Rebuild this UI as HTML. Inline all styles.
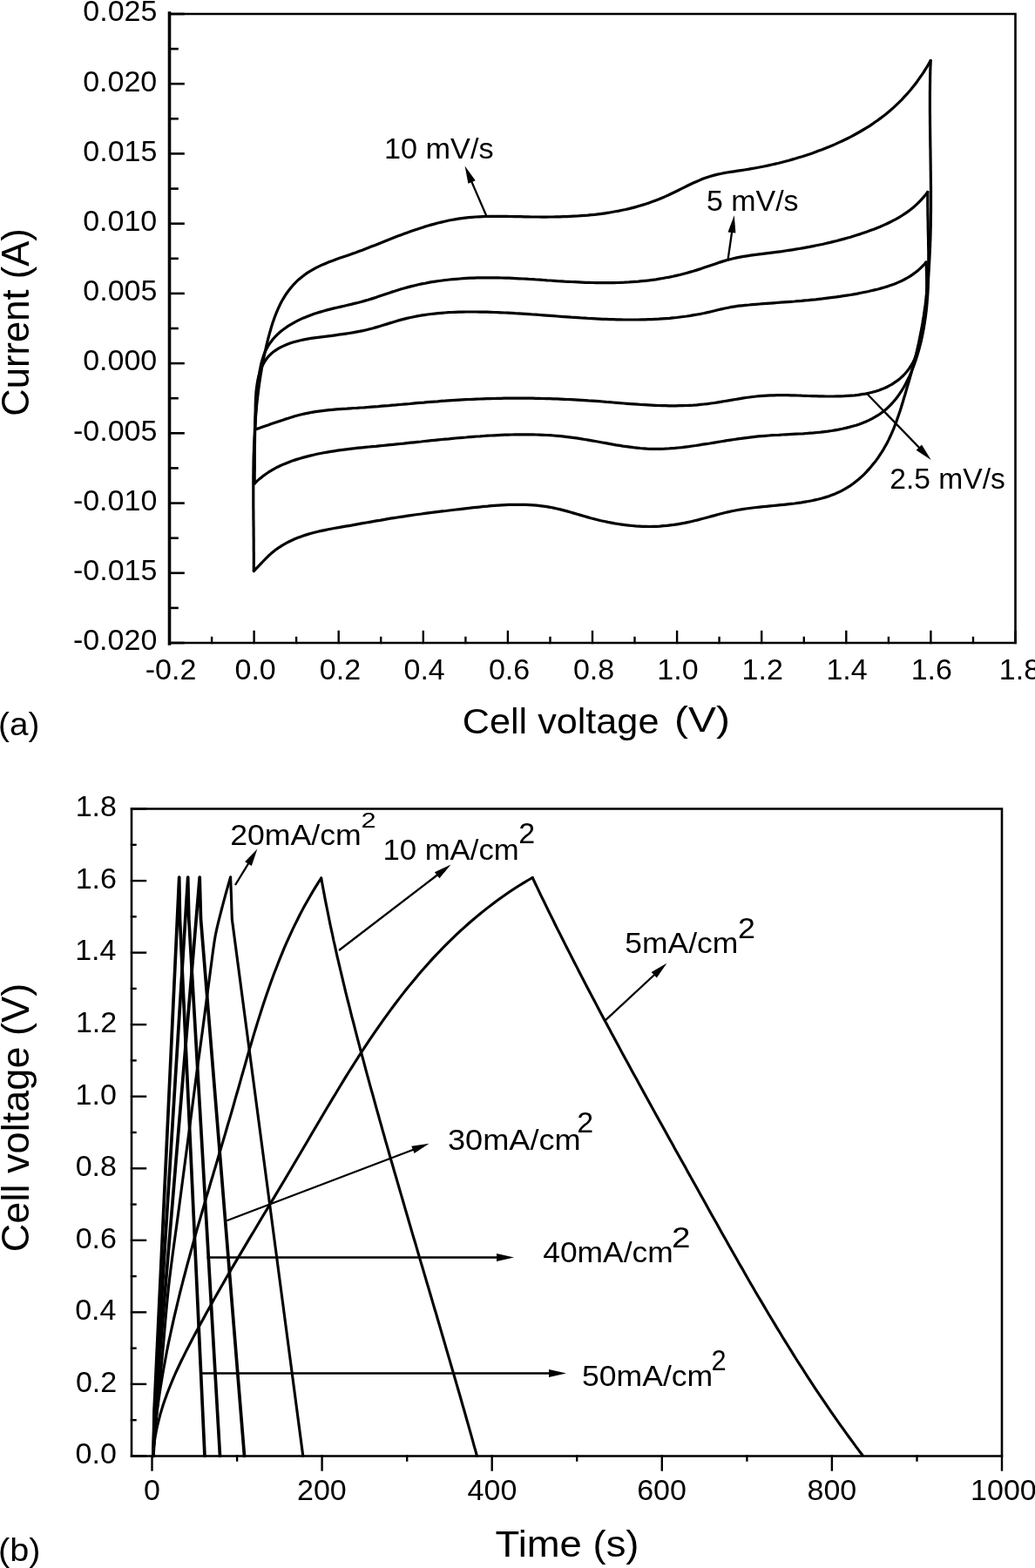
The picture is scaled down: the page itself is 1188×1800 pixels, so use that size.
<!DOCTYPE html>
<html><head><meta charset="utf-8"><title>Figure</title>
<style>
html,body{margin:0;padding:0;background:#fff;}
svg{display:block;}
</style></head><body>
<svg width="1188" height="1800" viewBox="0 0 1188 1800">
<rect width="1188" height="1800" fill="#fff"/>
<g fill="none" stroke="#000" stroke-linecap="square">
<path d="M194.5,15 V739" stroke-width="3.6"/>
<path d="M194.5,16 H1165.5 V738 H194.5" stroke-width="2.6"/>
<path d="M194.5,16 h16" stroke-width="2.6"/>
<path d="M194.5,56.1 h9" stroke-width="2.6"/>
<path d="M194.5,96.2 h16" stroke-width="2.6"/>
<path d="M194.5,136.3 h9" stroke-width="2.6"/>
<path d="M194.5,176.4 h16" stroke-width="2.6"/>
<path d="M194.5,216.6 h9" stroke-width="2.6"/>
<path d="M194.5,256.7 h16" stroke-width="2.6"/>
<path d="M194.5,296.8 h9" stroke-width="2.6"/>
<path d="M194.5,336.9 h16" stroke-width="2.6"/>
<path d="M194.5,377 h9" stroke-width="2.6"/>
<path d="M194.5,417.1 h16" stroke-width="2.6"/>
<path d="M194.5,457.2 h9" stroke-width="2.6"/>
<path d="M194.5,497.3 h16" stroke-width="2.6"/>
<path d="M194.5,537.4 h9" stroke-width="2.6"/>
<path d="M194.5,577.6 h16" stroke-width="2.6"/>
<path d="M194.5,617.7 h9" stroke-width="2.6"/>
<path d="M194.5,657.8 h16" stroke-width="2.6"/>
<path d="M194.5,697.9 h9" stroke-width="2.6"/>
<path d="M194.5,738 h16" stroke-width="2.6"/>
<path d="M194.5,738 v-13" stroke-width="2.4"/>
<path d="M243.1,738 v-6" stroke-width="2.4"/>
<path d="M291.6,738 v-13" stroke-width="2.4"/>
<path d="M340.1,738 v-6" stroke-width="2.4"/>
<path d="M388.7,738 v-13" stroke-width="2.4"/>
<path d="M437.2,738 v-6" stroke-width="2.4"/>
<path d="M485.8,738 v-13" stroke-width="2.4"/>
<path d="M534.4,738 v-6" stroke-width="2.4"/>
<path d="M582.9,738 v-13" stroke-width="2.4"/>
<path d="M631.5,738 v-6" stroke-width="2.4"/>
<path d="M680,738 v-13" stroke-width="2.4"/>
<path d="M728.5,738 v-6" stroke-width="2.4"/>
<path d="M777.1,738 v-13" stroke-width="2.4"/>
<path d="M825.6,738 v-6" stroke-width="2.4"/>
<path d="M874.2,738 v-13" stroke-width="2.4"/>
<path d="M922.8,738 v-6" stroke-width="2.4"/>
<path d="M971.3,738 v-13" stroke-width="2.4"/>
<path d="M1019.9,738 v-6" stroke-width="2.4"/>
<path d="M1068.4,738 v-13" stroke-width="2.4"/>
<path d="M1117,738 v-6" stroke-width="2.4"/>
<path d="M1165.5,738 v-13" stroke-width="2.4"/>
</g>
<g font-family="'Liberation Sans', Arial, Helvetica, sans-serif" fill="#000" stroke="#000" stroke-width="0">
<text x="95.3" y="24.3" font-size="34" textLength="85.08" lengthAdjust="spacingAndGlyphs">0.025</text>
<text x="95.2" y="104.5" font-size="34" textLength="85.08" lengthAdjust="spacingAndGlyphs">0.020</text>
<text x="95.3" y="184.7" font-size="34" textLength="85.08" lengthAdjust="spacingAndGlyphs">0.015</text>
<text x="95.2" y="265" font-size="34" textLength="85.08" lengthAdjust="spacingAndGlyphs">0.010</text>
<text x="95.3" y="345.2" font-size="34" textLength="85.08" lengthAdjust="spacingAndGlyphs">0.005</text>
<text x="95.2" y="425.4" font-size="34" textLength="85.08" lengthAdjust="spacingAndGlyphs">0.000</text>
<text x="84" y="505.6" font-size="34" textLength="96.41" lengthAdjust="spacingAndGlyphs">-0.005</text>
<text x="83.9" y="585.9" font-size="34" textLength="96.41" lengthAdjust="spacingAndGlyphs">-0.010</text>
<text x="84" y="666.1" font-size="34" textLength="96.41" lengthAdjust="spacingAndGlyphs">-0.015</text>
<text x="83.9" y="746.3" font-size="34" textLength="96.41" lengthAdjust="spacingAndGlyphs">-0.020</text>
<text x="166.8" y="779.5" font-size="34" textLength="58.59" lengthAdjust="spacingAndGlyphs">-0.2</text>
<text x="269.5" y="779.5" font-size="34" textLength="47.26" lengthAdjust="spacingAndGlyphs">0.0</text>
<text x="366.8" y="779.5" font-size="34" textLength="47.26" lengthAdjust="spacingAndGlyphs">0.2</text>
<text x="463.5" y="779.5" font-size="34" textLength="47.26" lengthAdjust="spacingAndGlyphs">0.4</text>
<text x="560.9" y="779.5" font-size="34" textLength="47.26" lengthAdjust="spacingAndGlyphs">0.6</text>
<text x="657.9" y="779.5" font-size="34" textLength="47.26" lengthAdjust="spacingAndGlyphs">0.8</text>
<text x="754.3" y="779.5" font-size="34" textLength="47.26" lengthAdjust="spacingAndGlyphs">1.0</text>
<text x="851.6" y="779.5" font-size="34" textLength="47.26" lengthAdjust="spacingAndGlyphs">1.2</text>
<text x="948.4" y="779.5" font-size="34" textLength="47.26" lengthAdjust="spacingAndGlyphs">1.4</text>
<text x="1045.7" y="779.5" font-size="34" textLength="47.26" lengthAdjust="spacingAndGlyphs">1.6</text>
<text x="1146.8" y="779.5" font-size="34" textLength="47.26" lengthAdjust="spacingAndGlyphs">1.8</text>
<text x="530.8" y="841.5" font-size="40" textLength="225.61" lengthAdjust="spacingAndGlyphs">Cell voltage</text>
<text x="774" y="840" font-size="40" textLength="63.95" lengthAdjust="spacingAndGlyphs">(V)</text>
<text transform="translate(32.5,477.8) rotate(-90)" font-size="44" textLength="215.52" lengthAdjust="spacingAndGlyphs">Current (A)</text>
<text x="-1.9" y="843.8" font-size="36" textLength="47.30" lengthAdjust="spacingAndGlyphs">(a)</text>
<text x="440.9" y="182.3" font-size="34" textLength="125.75" lengthAdjust="spacingAndGlyphs">10 mV/s</text>
<text x="810.9" y="242.4" font-size="34" textLength="105.69" lengthAdjust="spacingAndGlyphs">5 mV/s</text>
<text x="1021.2" y="561" font-size="34" textLength="132.71" lengthAdjust="spacingAndGlyphs">2.5 mV/s</text>
</g>
<g fill="none" stroke="#000" stroke-width="3.2" stroke-linejoin="round" stroke-linecap="round">
<path d="M291.3,655.0 L291.3,651.0 L291.3,646.9 L291.3,642.9 L291.3,638.9 L291.3,634.8 L291.2,630.8 L291.2,626.8 L291.2,622.8 L291.2,618.7 L291.1,614.7 L291.1,610.7 L291.1,606.6 L291.0,602.6 L291.0,598.6 L290.9,594.6 L290.9,590.5 L290.9,586.5 L290.8,582.5 L290.8,578.5 L290.8,574.5 L290.8,570.4 L290.8,566.4 L290.8,562.4 L290.8,558.4 L290.8,554.4 L290.8,550.4 L290.8,546.4 L290.9,542.3 L290.9,538.3 L291.0,534.3 L291.0,530.3 L291.1,526.3 L291.2,522.3 L291.4,518.3 L291.5,514.3 L291.6,510.3 L291.8,506.3 L292.0,502.3 L292.2,498.3 L292.4,494.3 L292.6,490.3 L292.9,486.3 L293.2,482.3 L293.5,478.4 L293.8,474.4 L294.2,470.4 L294.5,466.4 L294.9,462.4 L295.4,458.4 L295.8,454.5 L296.3,450.5 L296.8,446.5 L297.3,442.6 L297.9,438.6 L298.5,434.6 L299.1,430.7 L299.8,426.7 L300.4,422.7 L301.2,418.8 L301.9,414.8 L302.7,410.9 L303.5,406.9 L304.4,403.0 L305.3,399.0 L306.2,395.1 L307.2,391.1 L308.2,387.2 L309.3,383.2 L310.4,379.3 L311.5,375.4 L312.7,371.5 L314.0,367.7 L315.4,363.8 L316.8,360.1 L318.4,356.3 L320.0,352.7 L321.7,349.1 L323.6,345.5 L325.6,342.1 L327.7,338.7 L329.9,335.5 L332.3,332.3 L334.8,329.2 L337.4,326.3 L340.2,323.4 L343.1,320.7 L346.1,318.2 L349.3,315.7 L352.5,313.4 L355.8,311.3 L359.3,309.3 L362.8,307.4 L366.4,305.6 L370.0,303.9 L373.7,302.4 L377.5,300.8 L381.3,299.4 L385.1,298.0 L389.0,296.6 L392.8,295.3 L396.7,294.0 L400.5,292.7 L404.4,291.3 L408.2,290.0 L411.9,288.6 L415.7,287.2 L419.4,285.7 L423.1,284.3 L426.8,282.8 L430.5,281.4 L434.2,279.9 L437.9,278.4 L441.6,276.9 L445.3,275.4 L449.0,274.0 L452.8,272.5 L456.5,271.1 L460.3,269.7 L464.0,268.3 L467.8,266.9 L471.6,265.5 L475.4,264.2 L479.3,262.9 L483.1,261.7 L487.0,260.4 L490.8,259.3 L494.7,258.1 L498.6,257.1 L502.5,256.0 L506.4,255.1 L510.3,254.2 L514.2,253.3 L518.1,252.5 L522.1,251.8 L526.0,251.2 L530.0,250.6 L533.9,250.1 L537.9,249.7 L541.9,249.3 L545.8,249.0 L549.8,248.8 L553.8,248.6 L557.8,248.5 L561.8,248.4 L565.8,248.3 L569.9,248.3 L573.9,248.3 L577.9,248.3 L581.9,248.4 L585.9,248.5 L590.0,248.6 L594.0,248.6 L598.0,248.7 L602.1,248.8 L606.1,248.9 L610.2,249.0 L614.2,249.0 L618.3,249.0 L622.3,249.1 L626.4,249.1 L630.4,249.0 L634.4,249.0 L638.5,248.9 L642.5,248.8 L646.6,248.7 L650.6,248.6 L654.6,248.4 L658.6,248.2 L662.7,248.0 L666.7,247.7 L670.7,247.4 L674.7,247.1 L678.7,246.7 L682.6,246.3 L686.6,245.8 L690.6,245.3 L694.5,244.8 L698.5,244.2 L702.4,243.5 L706.3,242.8 L710.2,242.1 L714.1,241.3 L718.0,240.5 L721.9,239.6 L725.8,238.6 L729.6,237.6 L733.4,236.5 L737.2,235.4 L741.0,234.2 L744.8,232.9 L748.6,231.6 L752.3,230.2 L756.1,228.8 L759.8,227.2 L763.5,225.6 L767.1,224.0 L770.8,222.2 L774.4,220.5 L778.1,218.7 L781.7,216.9 L785.3,215.1 L789.0,213.3 L792.6,211.5 L796.3,209.8 L800.0,208.2 L803.7,206.6 L807.4,205.1 L811.2,203.7 L815.0,202.5 L818.9,201.4 L822.7,200.4 L826.7,199.5 L830.6,198.7 L834.6,198.0 L838.5,197.4 L842.5,196.8 L846.5,196.2 L850.5,195.6 L854.5,195.0 L858.5,194.4 L862.5,193.7 L866.4,193.0 L870.3,192.3 L874.3,191.5 L878.2,190.7 L882.1,189.9 L886.0,189.0 L889.9,188.1 L893.8,187.2 L897.7,186.2 L901.5,185.2 L905.4,184.2 L909.2,183.1 L913.1,182.0 L916.9,180.8 L920.7,179.7 L924.6,178.4 L928.4,177.2 L932.2,175.9 L936.0,174.5 L939.8,173.1 L943.6,171.7 L947.3,170.2 L951.1,168.7 L954.8,167.2 L958.5,165.6 L962.2,163.9 L965.9,162.2 L969.5,160.5 L973.2,158.7 L976.8,156.9 L980.3,155.0 L983.9,153.0 L987.4,151.0 L990.8,149.0 L994.3,146.9 L997.7,144.8 L1001.0,142.6 L1004.3,140.3 L1007.6,138.0 L1010.8,135.6 L1014.0,133.2 L1017.2,130.7 L1020.2,128.2 L1023.3,125.6 L1026.3,122.9 L1029.2,120.2 L1032.1,117.4 L1034.9,114.6 L1037.6,111.7 L1040.3,108.7 L1043.0,105.7 L1045.6,102.7 L1048.1,99.6 L1050.6,96.4 L1053.0,93.2 L1055.3,89.9 L1057.6,86.6 L1059.9,83.3 L1062.0,79.9 L1064.2,76.5 L1066.2,73.0 L1068.2,69.5"/>
<path d="M1068.2,69.5 L1068.1,73.5 L1067.9,77.5 L1067.8,81.5 L1067.7,85.5 L1067.6,89.5 L1067.6,93.5 L1067.5,97.5 L1067.5,101.6 L1067.4,105.6 L1067.4,109.6 L1067.4,113.6 L1067.4,117.6 L1067.4,121.6 L1067.4,125.7 L1067.4,129.7 L1067.5,133.7 L1067.5,137.7 L1067.5,141.8 L1067.6,145.8 L1067.6,149.8 L1067.7,153.9 L1067.7,157.9 L1067.8,161.9 L1067.8,165.9 L1067.9,170.0 L1068.0,174.0 L1068.0,178.0 L1068.1,182.1 L1068.1,186.1 L1068.2,190.1 L1068.2,194.2 L1068.3,198.2 L1068.3,202.2 L1068.4,206.3 L1068.4,210.3 L1068.5,214.3 L1068.5,218.4 L1068.5,222.4 L1068.5,226.4 L1068.5,230.4 L1068.5,234.5 L1068.5,238.5 L1068.5,242.5 L1068.4,246.5 L1068.4,250.6 L1068.3,254.6 L1068.3,258.6 L1068.2,262.6 L1068.1,266.7 L1068.0,270.7 L1067.9,274.7 L1067.7,278.7 L1067.6,282.7 L1067.4,286.7 L1067.2,290.8 L1067.0,294.8 L1066.8,298.8 L1066.6,302.8 L1066.3,306.8 L1066.0,310.8 L1065.7,314.8 L1065.4,318.8 L1065.0,322.8 L1064.7,326.8 L1064.3,330.8 L1063.9,334.7 L1063.4,338.7 L1063.0,342.7 L1062.5,346.7 L1062.0,350.7 L1061.4,354.6 L1060.9,358.6 L1060.3,362.6 L1059.6,366.5 L1059.0,370.5 L1058.3,374.5 L1057.6,378.4 L1056.8,382.4 L1056.0,386.3 L1055.2,390.3 L1054.4,394.2 L1053.5,398.2 L1052.6,402.1 L1051.7,406.0 L1050.7,409.9 L1049.7,413.9 L1048.7,417.8 L1047.7,421.7 L1046.6,425.6 L1045.6,429.5 L1044.5,433.4 L1043.4,437.3 L1042.3,441.1 L1041.1,445.0 L1040.0,448.9 L1038.9,452.7 L1037.7,456.5 L1036.6,460.4 L1035.4,464.2 L1034.3,468.0 L1033.1,471.8 L1031.8,475.6 L1030.5,479.3 L1029.2,483.1 L1027.8,486.8 L1026.4,490.5 L1024.9,494.2 L1023.3,497.9 L1021.6,501.5 L1019.9,505.1 L1018.1,508.7 L1016.1,512.2 L1014.1,515.8 L1012.0,519.2 L1009.7,522.7 L1007.4,526.1 L1005.0,529.4 L1002.4,532.6 L999.8,535.8 L997.1,538.9 L994.4,541.9 L991.5,544.8 L988.5,547.6 L985.5,550.3 L982.4,552.8 L979.2,555.3 L975.9,557.6 L972.6,559.7 L969.2,561.7 L965.7,563.6 L962.1,565.3 L958.5,566.9 L954.8,568.3 L951.1,569.7 L947.3,570.9 L943.5,572.0 L939.6,573.0 L935.7,573.9 L931.8,574.8 L927.9,575.5 L923.9,576.2 L919.9,576.9 L915.9,577.4 L911.9,578.0 L907.9,578.4 L903.8,578.9 L899.8,579.3 L895.8,579.7 L891.8,580.1 L887.8,580.5 L883.7,580.9 L879.7,581.3 L875.8,581.7 L871.8,582.1 L867.8,582.5 L863.8,583.0 L859.8,583.5 L855.9,584.0 L851.9,584.6 L848.0,585.3 L844.0,586.0 L840.1,586.8 L836.2,587.6 L832.3,588.5 L828.4,589.5 L824.5,590.5 L820.6,591.6 L816.7,592.6 L812.8,593.7 L808.9,594.8 L805.0,595.8 L801.1,596.9 L797.2,597.8 L793.3,598.7 L789.3,599.6 L785.4,600.4 L781.4,601.1 L777.4,601.8 L773.5,602.4 L769.5,602.9 L765.5,603.4 L761.5,603.7 L757.5,604.1 L753.5,604.3 L749.5,604.4 L745.5,604.5 L741.5,604.4 L737.5,604.3 L733.5,604.1 L729.5,603.9 L725.5,603.5 L721.5,603.1 L717.6,602.7 L713.6,602.1 L709.6,601.5 L705.6,600.9 L701.7,600.1 L697.7,599.4 L693.8,598.5 L689.8,597.7 L685.9,596.7 L682.0,595.7 L678.1,594.7 L674.2,593.6 L670.3,592.5 L666.4,591.4 L662.6,590.3 L658.7,589.1 L654.9,588.0 L651.0,586.9 L647.1,585.9 L643.3,584.9 L639.4,584.0 L635.5,583.1 L631.6,582.3 L627.6,581.7 L623.7,581.1 L619.7,580.6 L615.8,580.2 L611.8,579.9 L607.8,579.6 L603.8,579.4 L599.8,579.3 L595.8,579.3 L591.8,579.3 L587.8,579.3 L583.8,579.4 L579.8,579.6 L575.7,579.8 L571.7,580.1 L567.7,580.4 L563.7,580.7 L559.6,581.1 L555.6,581.4 L551.6,581.9 L547.5,582.3 L543.5,582.7 L539.5,583.2 L535.5,583.6 L531.5,584.1 L527.4,584.6 L523.4,585.0 L519.4,585.5 L515.4,586.0 L511.4,586.5 L507.5,586.9 L503.5,587.4 L499.5,587.9 L495.5,588.4 L491.5,588.9 L487.6,589.4 L483.6,590.0 L479.6,590.5 L475.7,591.0 L471.7,591.6 L467.8,592.2 L463.8,592.8 L459.8,593.4 L455.9,594.0 L451.9,594.6 L448.0,595.2 L444.0,595.9 L440.1,596.6 L436.1,597.3 L432.1,597.9 L428.2,598.6 L424.2,599.3 L420.3,600.0 L416.3,600.7 L412.3,601.4 L408.4,602.1 L404.4,602.9 L400.4,603.6 L396.5,604.2 L392.5,604.9 L388.5,605.6 L384.6,606.3 L380.6,607.0 L376.6,607.8 L372.7,608.6 L368.8,609.4 L364.9,610.3 L361.0,611.2 L357.1,612.2 L353.2,613.4 L349.4,614.6 L345.6,615.9 L341.9,617.3 L338.2,618.8 L334.5,620.5 L330.9,622.2 L327.4,624.1 L323.9,626.1 L320.5,628.3 L317.2,630.6 L314.1,633.0 L311.0,635.6 L308.0,638.3 L305.2,641.1 L302.4,644.0 L299.6,646.9 L296.8,649.8 L294.1,652.7 L291.3,655.6"/>
<path d="M292.2,555.0 L292.2,550.9 L292.2,546.8 L292.2,542.8 L292.3,538.7 L292.3,534.7 L292.3,530.7 L292.3,526.7 L292.3,522.7 L292.3,518.7 L292.4,514.7 L292.4,510.7 L292.5,506.7 L292.5,502.7 L292.6,498.7 L292.7,494.8 L292.8,490.8 L292.9,486.8 L293.1,482.8 L293.3,478.8 L293.5,474.8 L293.7,470.8 L293.9,466.8 L294.2,462.8 L294.5,458.8 L294.8,454.7 L295.2,450.7 L295.6,446.6 L296.0,442.5 L296.4,438.4 L297.0,434.3 L297.5,430.2 L298.1,426.1 L298.9,422.0 L299.7,418.0 L300.7,414.1 L301.9,410.2 L303.2,406.5 L304.7,402.8 L306.5,399.4 L308.4,396.0 L310.6,392.9 L313.0,389.8 L315.5,386.9 L318.2,384.2 L321.1,381.5 L324.1,379.0 L327.3,376.7 L330.6,374.4 L334.0,372.3 L337.5,370.3 L341.1,368.4 L344.7,366.6 L348.5,364.9 L352.2,363.4 L356.1,361.9 L359.9,360.5 L363.8,359.3 L367.6,358.1 L371.5,357.0 L375.4,355.9 L379.4,354.9 L383.3,353.9 L387.2,353.0 L391.1,352.1 L395.1,351.2 L399.0,350.3 L402.9,349.4 L406.8,348.4 L410.7,347.5 L414.6,346.5 L418.5,345.4 L422.4,344.3 L426.2,343.1 L430.1,341.9 L433.9,340.6 L437.7,339.3 L441.5,338.0 L445.3,336.7 L449.1,335.4 L453.0,334.2 L456.8,333.0 L460.6,331.8 L464.5,330.7 L468.4,329.6 L472.2,328.6 L476.1,327.7 L480.0,326.8 L484.0,325.9 L487.9,325.2 L491.8,324.4 L495.8,323.7 L499.7,323.1 L503.7,322.5 L507.7,322.0 L511.7,321.5 L515.7,321.0 L519.7,320.6 L523.7,320.3 L527.7,320.0 L531.7,319.7 L535.7,319.4 L539.7,319.2 L543.7,319.1 L547.7,318.9 L551.8,318.9 L555.8,318.8 L559.8,318.8 L563.8,318.8 L567.8,318.8 L571.9,318.9 L575.9,319.0 L579.9,319.1 L583.9,319.2 L587.9,319.4 L591.9,319.6 L595.9,319.8 L600.0,320.0 L604.0,320.2 L608.0,320.5 L612.0,320.7 L616.0,321.0 L620.0,321.2 L624.0,321.5 L628.0,321.8 L632.0,322.0 L636.0,322.3 L640.0,322.6 L644.1,322.8 L648.1,323.1 L652.1,323.3 L656.1,323.5 L660.1,323.7 L664.2,323.9 L668.2,324.1 L672.2,324.3 L676.2,324.4 L680.3,324.5 L684.3,324.6 L688.3,324.7 L692.4,324.7 L696.4,324.7 L700.5,324.6 L704.5,324.6 L708.6,324.5 L712.6,324.3 L716.6,324.2 L720.7,324.0 L724.7,323.7 L728.7,323.4 L732.7,323.1 L736.7,322.7 L740.7,322.3 L744.7,321.9 L748.7,321.3 L752.7,320.8 L756.6,320.2 L760.6,319.5 L764.5,318.8 L768.5,318.1 L772.4,317.3 L776.3,316.4 L780.2,315.5 L784.1,314.5 L787.9,313.5 L791.8,312.4 L795.7,311.3 L799.5,310.1 L803.3,308.9 L807.1,307.6 L811.0,306.3 L814.8,305.0 L818.6,303.7 L822.4,302.4 L826.2,301.1 L830.1,299.9 L833.9,298.8 L837.8,297.7 L841.7,296.8 L845.6,295.9 L849.5,295.1 L853.5,294.4 L857.4,293.8 L861.4,293.2 L865.4,292.6 L869.3,292.1 L873.3,291.6 L877.3,291.1 L881.3,290.6 L885.3,290.1 L889.3,289.6 L893.3,289.1 L897.3,288.6 L901.2,288.0 L905.2,287.4 L909.2,286.8 L913.1,286.2 L917.1,285.5 L921.1,284.8 L925.0,284.1 L929.0,283.4 L933.0,282.6 L936.9,281.8 L940.9,281.0 L944.8,280.2 L948.7,279.3 L952.7,278.4 L956.6,277.4 L960.5,276.5 L964.4,275.4 L968.3,274.4 L972.2,273.3 L976.1,272.2 L979.9,271.0 L983.8,269.8 L987.6,268.6 L991.4,267.3 L995.2,266.0 L999.0,264.6 L1002.8,263.2 L1006.6,261.7 L1010.3,260.2 L1014.0,258.6 L1017.6,257.0 L1021.2,255.2 L1024.8,253.4 L1028.3,251.6 L1031.8,249.6 L1035.2,247.5 L1038.5,245.3 L1041.8,243.1 L1045.0,240.7 L1048.1,238.2 L1051.1,235.6 L1054.0,232.8 L1056.9,229.9 L1059.6,226.9 L1062.3,223.7 L1064.8,220.4"/>
<path d="M1064.8,220.4 L1064.8,224.4 L1064.8,228.5 L1064.8,232.5 L1064.8,236.5 L1064.9,240.5 L1064.9,244.6 L1065.0,248.6 L1065.1,252.6 L1065.2,256.6 L1065.2,260.6 L1065.3,264.7 L1065.4,268.7 L1065.5,272.7 L1065.6,276.7 L1065.6,280.7 L1065.7,284.8 L1065.8,288.8 L1065.8,292.8 L1065.8,296.8 L1065.8,300.8 L1065.8,304.8 L1065.8,308.8 L1065.7,312.8 L1065.7,316.8 L1065.6,320.8 L1065.4,324.8 L1065.3,328.8 L1065.1,332.8 L1064.9,336.8 L1064.6,340.8 L1064.3,344.7 L1064.0,348.7 L1063.6,352.7 L1063.2,356.7 L1062.7,360.6 L1062.2,364.6 L1061.6,368.6 L1061.0,372.5 L1060.3,376.5 L1059.6,380.4 L1058.8,384.4 L1058.0,388.3 L1057.1,392.3 L1056.1,396.2 L1055.1,400.1 L1054.0,404.1 L1052.8,408.0 L1051.6,411.9 L1050.3,415.8 L1048.9,419.7 L1047.4,423.5 L1045.9,427.3 L1044.3,431.1 L1042.5,434.8 L1040.7,438.4 L1038.8,442.0 L1036.8,445.5 L1034.7,448.9 L1032.5,452.2 L1030.2,455.4 L1027.8,458.5 L1025.3,461.5 L1022.7,464.4 L1019.9,467.1 L1017.1,469.8 L1014.1,472.2 L1011.0,474.5 L1007.8,476.7 L1004.4,478.7 L1001.0,480.6 L997.5,482.4 L993.9,484.0 L990.2,485.5 L986.4,486.9 L982.6,488.2 L978.7,489.3 L974.7,490.4 L970.7,491.4 L966.7,492.3 L962.6,493.1 L958.5,493.8 L954.4,494.5 L950.3,495.1 L946.2,495.6 L942.1,496.1 L938.0,496.5 L933.9,496.9 L929.9,497.2 L925.8,497.5 L921.8,497.8 L917.8,498.0 L913.8,498.2 L909.9,498.4 L905.9,498.6 L901.9,498.8 L898.0,499.0 L894.0,499.3 L890.1,499.5 L886.2,499.7 L882.2,500.0 L878.3,500.3 L874.3,500.6 L870.4,500.9 L866.4,501.3 L862.5,501.8 L858.5,502.3 L854.5,502.8 L850.6,503.3 L846.6,503.9 L842.6,504.5 L838.6,505.1 L834.6,505.7 L830.6,506.4 L826.6,507.0 L822.6,507.7 L818.6,508.3 L814.6,509.0 L810.6,509.6 L806.6,510.2 L802.6,510.9 L798.6,511.5 L794.6,512.0 L790.6,512.6 L786.6,513.1 L782.6,513.6 L778.6,514.0 L774.6,514.4 L770.6,514.7 L766.7,515.0 L762.7,515.2 L758.7,515.3 L754.7,515.4 L750.7,515.4 L746.8,515.3 L742.8,515.1 L738.8,514.8 L734.9,514.5 L730.9,514.1 L726.9,513.7 L723.0,513.2 L719.0,512.6 L715.0,512.1 L711.1,511.4 L707.1,510.8 L703.1,510.1 L699.2,509.4 L695.2,508.7 L691.2,508.0 L687.3,507.3 L683.3,506.5 L679.3,505.8 L675.3,505.1 L671.4,504.5 L667.4,503.8 L663.4,503.2 L659.4,502.6 L655.4,502.1 L651.4,501.6 L647.4,501.1 L643.4,500.7 L639.4,500.3 L635.4,500.0 L631.4,499.7 L627.4,499.5 L623.4,499.3 L619.4,499.1 L615.4,499.0 L611.3,498.9 L607.3,498.8 L603.3,498.8 L599.3,498.8 L595.3,498.8 L591.2,498.9 L587.2,499.0 L583.2,499.1 L579.2,499.2 L575.2,499.4 L571.1,499.6 L567.1,499.8 L563.1,500.0 L559.1,500.2 L555.1,500.5 L551.1,500.8 L547.1,501.0 L543.1,501.3 L539.1,501.6 L535.1,502.0 L531.1,502.3 L527.1,502.7 L523.1,503.0 L519.1,503.4 L515.2,503.8 L511.2,504.1 L507.2,504.5 L503.2,504.9 L499.2,505.3 L495.2,505.7 L491.3,506.1 L487.3,506.5 L483.3,507.0 L479.3,507.4 L475.3,507.8 L471.3,508.2 L467.3,508.6 L463.3,509.1 L459.4,509.5 L455.4,509.9 L451.4,510.3 L447.4,510.7 L443.4,511.1 L439.4,511.5 L435.4,511.9 L431.4,512.3 L427.4,512.6 L423.3,513.0 L419.3,513.4 L415.3,513.8 L411.3,514.2 L407.3,514.7 L403.3,515.1 L399.3,515.6 L395.3,516.1 L391.4,516.6 L387.4,517.2 L383.4,517.8 L379.5,518.4 L375.5,519.1 L371.6,519.8 L367.7,520.5 L363.7,521.3 L359.8,522.2 L356.0,523.1 L352.1,524.1 L348.2,525.1 L344.4,526.2 L340.6,527.4 L336.8,528.6 L333.0,529.9 L329.3,531.4 L325.6,532.9 L322.0,534.5 L318.4,536.2 L314.9,538.1 L311.4,540.1 L308.0,542.2 L304.7,544.5 L301.4,546.9 L298.3,549.4 L295.2,552.1 L292.2,555.0"/>
<path d="M292.5,493.1 L292.7,489.4 L292.9,485.6 L293.0,481.6 L293.0,477.6 L293.1,473.6 L293.2,469.5 L293.2,465.3 L293.4,461.1 L293.5,456.9 L293.8,452.8 L294.1,448.6 L294.6,444.5 L295.2,440.4 L295.9,436.3 L296.8,432.3 L297.9,428.5 L299.1,424.7 L300.6,421.0 L302.4,417.5 L304.4,414.2 L306.6,411.0 L309.1,408.1 L311.9,405.5 L315.0,403.1 L318.3,400.9 L321.7,398.9 L325.4,397.1 L329.1,395.5 L332.9,394.1 L336.9,392.8 L340.8,391.7 L344.8,390.7 L348.8,389.9 L352.8,389.1 L356.8,388.4 L360.8,387.8 L364.8,387.3 L368.8,386.8 L372.8,386.3 L376.9,385.8 L380.9,385.3 L384.8,384.8 L388.8,384.2 L392.8,383.7 L396.8,383.1 L400.7,382.5 L404.7,381.8 L408.6,381.1 L412.6,380.4 L416.5,379.6 L420.4,378.7 L424.3,377.7 L428.2,376.7 L432.1,375.6 L436.0,374.5 L439.8,373.3 L443.7,372.1 L447.6,370.9 L451.5,369.7 L455.4,368.5 L459.2,367.4 L463.2,366.4 L467.1,365.4 L471.0,364.5 L474.9,363.7 L478.9,362.9 L482.8,362.2 L486.8,361.6 L490.8,361.0 L494.7,360.5 L498.7,360.1 L502.7,359.7 L506.7,359.3 L510.7,359.0 L514.7,358.7 L518.7,358.5 L522.8,358.3 L526.8,358.2 L530.8,358.1 L534.8,358.0 L538.9,358.0 L542.9,358.0 L546.9,358.0 L550.9,358.1 L555.0,358.1 L559.0,358.2 L563.0,358.3 L567.1,358.5 L571.1,358.6 L575.1,358.8 L579.1,359.0 L583.2,359.2 L587.2,359.4 L591.2,359.7 L595.3,359.9 L599.3,360.1 L603.3,360.4 L607.3,360.7 L611.4,361.0 L615.4,361.2 L619.4,361.5 L623.4,361.8 L627.4,362.1 L631.5,362.4 L635.5,362.7 L639.5,363.0 L643.5,363.3 L647.6,363.6 L651.6,363.9 L655.6,364.2 L659.6,364.4 L663.7,364.7 L667.7,365.0 L671.7,365.2 L675.7,365.5 L679.7,365.7 L683.8,365.9 L687.8,366.1 L691.8,366.3 L695.8,366.4 L699.9,366.6 L703.9,366.7 L707.9,366.8 L712.0,366.9 L716.0,367.0 L720.0,367.0 L724.0,367.0 L728.1,367.0 L732.1,367.0 L736.1,366.9 L740.2,366.8 L744.2,366.7 L748.2,366.6 L752.3,366.4 L756.3,366.2 L760.3,365.9 L764.4,365.6 L768.4,365.3 L772.4,364.9 L776.4,364.5 L780.4,364.0 L784.4,363.5 L788.4,363.0 L792.4,362.4 L796.4,361.7 L800.4,361.0 L804.4,360.3 L808.3,359.5 L812.2,358.6 L816.2,357.7 L820.1,356.8 L824.0,355.8 L827.9,354.9 L831.8,354.0 L835.8,353.2 L839.7,352.4 L843.7,351.8 L847.6,351.2 L851.6,350.8 L855.7,350.3 L859.7,350.0 L863.7,349.6 L867.7,349.3 L871.7,349.0 L875.8,348.7 L879.8,348.4 L883.8,348.1 L887.8,347.8 L891.8,347.5 L895.9,347.2 L899.9,346.9 L903.9,346.6 L907.9,346.3 L911.9,346.0 L915.9,345.6 L920.0,345.3 L924.0,344.9 L928.0,344.6 L932.0,344.2 L936.0,343.8 L940.0,343.3 L944.0,342.9 L948.0,342.4 L952.0,341.9 L956.0,341.4 L960.0,340.9 L964.0,340.3 L968.0,339.7 L972.0,339.1 L976.0,338.5 L980.0,337.8 L984.0,337.1 L987.9,336.3 L991.9,335.5 L995.9,334.7 L999.8,333.8 L1003.8,332.9 L1007.7,332.0 L1011.6,330.9 L1015.5,329.8 L1019.3,328.6 L1023.1,327.3 L1026.8,326.0 L1030.5,324.4 L1034.2,322.8 L1037.7,321.0 L1041.2,319.1 L1044.6,317.1 L1047.9,314.9 L1051.1,312.5 L1054.3,309.9 L1057.3,307.1 L1060.2,304.2 L1063.0,301.0"/>
<path d="M1063.0,301.0 L1063.2,305.0 L1063.4,309.0 L1063.5,313.0 L1063.6,317.0 L1063.7,321.0 L1063.7,325.0 L1063.7,329.0 L1063.7,333.1 L1063.6,337.1 L1063.4,341.1 L1063.2,345.1 L1062.9,349.2 L1062.6,353.2 L1062.3,357.2 L1061.9,361.3 L1061.4,365.3 L1060.8,369.3 L1060.2,373.4 L1059.6,377.4 L1058.8,381.4 L1058.0,385.5 L1057.2,389.5 L1056.2,393.5 L1055.1,397.5 L1053.9,401.4 L1052.6,405.2 L1051.2,409.0 L1049.6,412.6 L1047.8,416.2 L1045.8,419.6 L1043.7,422.9 L1041.4,426.0 L1038.8,429.0 L1036.1,431.8 L1033.2,434.4 L1030.1,436.9 L1026.8,439.1 L1023.5,441.3 L1020.0,443.2 L1016.4,445.0 L1012.7,446.6 L1009.0,448.0 L1005.1,449.2 L1001.2,450.3 L997.2,451.2 L993.2,452.1 L989.2,452.7 L985.1,453.3 L981.0,453.8 L976.9,454.1 L972.8,454.4 L968.7,454.7 L964.6,454.8 L960.5,454.9 L956.4,455.0 L952.4,455.0 L948.3,455.0 L944.3,454.9 L940.2,454.8 L936.2,454.7 L932.1,454.6 L928.1,454.5 L924.1,454.3 L920.1,454.2 L916.1,454.0 L912.1,453.9 L908.1,453.8 L904.1,453.7 L900.1,453.7 L896.1,453.7 L892.1,453.7 L888.1,453.8 L884.1,453.9 L880.1,454.1 L876.1,454.3 L872.1,454.6 L868.1,455.0 L864.1,455.5 L860.1,456.0 L856.1,456.5 L852.1,457.1 L848.1,457.8 L844.1,458.5 L840.1,459.2 L836.1,459.8 L832.1,460.5 L828.1,461.2 L824.1,461.8 L820.1,462.5 L816.0,463.0 L812.0,463.6 L808.0,464.0 L804.0,464.4 L800.0,464.8 L796.0,465.1 L792.0,465.3 L788.0,465.5 L784.0,465.6 L780.0,465.7 L776.0,465.8 L771.9,465.8 L767.9,465.8 L763.9,465.7 L759.9,465.6 L755.9,465.5 L751.9,465.3 L747.9,465.1 L743.9,464.9 L739.8,464.7 L735.8,464.5 L731.8,464.2 L727.8,463.9 L723.8,463.6 L719.8,463.3 L715.7,463.0 L711.7,462.7 L707.7,462.3 L703.7,462.0 L699.7,461.7 L695.6,461.4 L691.6,461.0 L687.6,460.7 L683.6,460.4 L679.6,460.1 L675.5,459.9 L671.5,459.6 L667.5,459.3 L663.5,459.1 L659.4,458.9 L655.4,458.7 L651.4,458.5 L647.3,458.3 L643.3,458.1 L639.3,457.9 L635.3,457.8 L631.2,457.7 L627.2,457.6 L623.2,457.5 L619.1,457.4 L615.1,457.3 L611.1,457.2 L607.0,457.2 L603.0,457.1 L599.0,457.1 L595.0,457.1 L590.9,457.1 L586.9,457.1 L582.9,457.2 L578.8,457.2 L574.8,457.3 L570.8,457.4 L566.8,457.5 L562.7,457.6 L558.7,457.7 L554.7,457.8 L550.6,458.0 L546.6,458.1 L542.6,458.3 L538.6,458.5 L534.5,458.7 L530.5,458.9 L526.5,459.1 L522.5,459.3 L518.5,459.6 L514.4,459.9 L510.4,460.2 L506.4,460.4 L502.4,460.8 L498.4,461.1 L494.4,461.4 L490.3,461.7 L486.3,462.1 L482.3,462.4 L478.3,462.7 L474.3,463.1 L470.3,463.5 L466.3,463.8 L462.2,464.2 L458.2,464.5 L454.2,464.9 L450.2,465.2 L446.2,465.6 L442.1,465.9 L438.1,466.2 L434.1,466.6 L430.1,466.9 L426.1,467.2 L422.0,467.5 L418.0,467.8 L414.0,468.0 L409.9,468.3 L405.9,468.5 L401.9,468.8 L397.9,469.1 L393.8,469.3 L389.8,469.6 L385.8,469.9 L381.8,470.3 L377.8,470.7 L373.8,471.1 L369.8,471.6 L365.8,472.1 L361.9,472.7 L357.9,473.3 L354.0,474.1 L350.0,474.9 L346.1,475.8 L342.2,476.8 L338.4,477.8 L334.5,479.0 L330.7,480.2 L326.8,481.4 L323.0,482.7 L319.2,484.0 L315.4,485.3 L311.5,486.6 L307.7,488.0 L303.9,489.3 L300.1,490.6 L296.3,491.9 L292.5,493.1"/>
</g>
<path d="M558.5,248.3 L540.7,207.1" stroke="#000" stroke-width="2.3" fill="none"/><path d="M533.6,190.6 L545.7,207.2 L537.4,210.7 Z" fill="#000"/>
<path d="M835.6,297.7 L840.3,265" stroke="#000" stroke-width="2.3" fill="none"/><path d="M842.8,247.2 L844.4,267.6 L835.5,266.4 Z" fill="#000"/>
<path d="M995.4,452.2 L1056.2,515" stroke="#000" stroke-width="2.3" fill="none"/><path d="M1068.7,527.9 L1051.6,516.7 L1058,510.4 Z" fill="#000"/>
<g fill="none" stroke="#000" stroke-linecap="square">
<path d="M151,928.5 H1150 V1671.5 H151 Z" stroke-width="2.6"/>
<path d="M151,1671.5 h16" stroke-width="2.4"/>
<path d="M151,1630.2 h4.5" stroke-width="2.4"/>
<path d="M151,1588.9 h16" stroke-width="2.4"/>
<path d="M151,1547.7 h4.5" stroke-width="2.4"/>
<path d="M151,1506.4 h16" stroke-width="2.4"/>
<path d="M151,1465.1 h4.5" stroke-width="2.4"/>
<path d="M151,1423.8 h16" stroke-width="2.4"/>
<path d="M151,1382.6 h4.5" stroke-width="2.4"/>
<path d="M151,1341.3 h16" stroke-width="2.4"/>
<path d="M151,1300 h4.5" stroke-width="2.4"/>
<path d="M151,1258.7 h16" stroke-width="2.4"/>
<path d="M151,1217.4 h4.5" stroke-width="2.4"/>
<path d="M151,1176.2 h16" stroke-width="2.4"/>
<path d="M151,1134.9 h4.5" stroke-width="2.4"/>
<path d="M151,1093.6 h16" stroke-width="2.4"/>
<path d="M151,1052.3 h4.5" stroke-width="2.4"/>
<path d="M151,1011.1 h16" stroke-width="2.4"/>
<path d="M151,969.8 h4.5" stroke-width="2.4"/>
<path d="M151,928.5 h16" stroke-width="2.4"/>
<path d="M174.5,1671.5 v16" stroke-width="2.4"/>
<path d="M272.1,1671.5 v5" stroke-width="2.4"/>
<path d="M369.6,1671.5 v16" stroke-width="2.4"/>
<path d="M467.2,1671.5 v5" stroke-width="2.4"/>
<path d="M564.7,1671.5 v16" stroke-width="2.4"/>
<path d="M662.2,1671.5 v5" stroke-width="2.4"/>
<path d="M759.8,1671.5 v16" stroke-width="2.4"/>
<path d="M857.4,1671.5 v5" stroke-width="2.4"/>
<path d="M954.9,1671.5 v16" stroke-width="2.4"/>
<path d="M1052.5,1671.5 v5" stroke-width="2.4"/>
<path d="M1150,1671.5 v16" stroke-width="2.4"/>
</g>
<g font-family="'Liberation Sans', Arial, Helvetica, sans-serif" fill="#000" stroke="#000" stroke-width="0">
<text x="86.6" y="1680.3" font-size="34" textLength="47.26" lengthAdjust="spacingAndGlyphs">0.0</text>
<text x="86.9" y="1597.7" font-size="34" textLength="47.26" lengthAdjust="spacingAndGlyphs">0.2</text>
<text x="86.2" y="1515.2" font-size="34" textLength="47.26" lengthAdjust="spacingAndGlyphs">0.4</text>
<text x="86.7" y="1432.6" font-size="34" textLength="47.26" lengthAdjust="spacingAndGlyphs">0.6</text>
<text x="86.7" y="1350.1" font-size="34" textLength="47.26" lengthAdjust="spacingAndGlyphs">0.8</text>
<text x="86.6" y="1267.5" font-size="34" textLength="47.26" lengthAdjust="spacingAndGlyphs">1.0</text>
<text x="86.9" y="1185" font-size="34" textLength="47.26" lengthAdjust="spacingAndGlyphs">1.2</text>
<text x="86.2" y="1102.4" font-size="34" textLength="47.26" lengthAdjust="spacingAndGlyphs">1.4</text>
<text x="86.7" y="1019.9" font-size="34" textLength="47.26" lengthAdjust="spacingAndGlyphs">1.6</text>
<text x="86.7" y="937.3" font-size="34" textLength="47.26" lengthAdjust="spacingAndGlyphs">1.8</text>
<text x="165" y="1721.5" font-size="34" textLength="18.91" lengthAdjust="spacingAndGlyphs">0</text>
<text x="341" y="1721.5" font-size="34" textLength="56.73" lengthAdjust="spacingAndGlyphs">200</text>
<text x="536.6" y="1721.5" font-size="34" textLength="56.73" lengthAdjust="spacingAndGlyphs">400</text>
<text x="731.2" y="1721.5" font-size="34" textLength="56.73" lengthAdjust="spacingAndGlyphs">600</text>
<text x="926.5" y="1721.5" font-size="34" textLength="56.73" lengthAdjust="spacingAndGlyphs">800</text>
<text x="1114.1" y="1721.5" font-size="34" textLength="75.64" lengthAdjust="spacingAndGlyphs">1000</text>
<text x="568.6" y="1787.4" font-size="42" textLength="164.90" lengthAdjust="spacingAndGlyphs">Time (s)</text>
<text transform="translate(33,1437.3) rotate(-90)" font-size="44" textLength="308.49" lengthAdjust="spacingAndGlyphs">Cell voltage (V)</text>
<text x="-2" y="1792" font-size="36" textLength="48.41" lengthAdjust="spacingAndGlyphs">(b)</text>
<text x="264.2" y="969.6" font-size="34" textLength="150.54" lengthAdjust="spacingAndGlyphs">20mA/cm</text><text x="414.5" y="950" font-size="24.5" textLength="17.09" lengthAdjust="spacingAndGlyphs">2</text>
<text x="439.4" y="987.3" font-size="34" textLength="156.34" lengthAdjust="spacingAndGlyphs">10 mA/cm</text><text x="595.3" y="968" font-size="32.3" textLength="18.92" lengthAdjust="spacingAndGlyphs">2</text>
<text x="717.3" y="1094.3" font-size="34" textLength="130.06" lengthAdjust="spacingAndGlyphs">5mA/cm</text><text x="846.9" y="1076.6" font-size="32.3" textLength="19.90" lengthAdjust="spacingAndGlyphs">2</text>
<text x="514" y="1320.4" font-size="34" textLength="152.66" lengthAdjust="spacingAndGlyphs">30mA/cm</text><text x="662.3" y="1300" font-size="32.3" textLength="18.92" lengthAdjust="spacingAndGlyphs">2</text>
<text x="623.2" y="1449" font-size="34" textLength="149.55" lengthAdjust="spacingAndGlyphs">40mA/cm</text><text x="771.1" y="1431.5" font-size="32.3" textLength="21.49" lengthAdjust="spacingAndGlyphs">2</text>
<text x="668" y="1590.6" font-size="34" textLength="150.27" lengthAdjust="spacingAndGlyphs">50mA/cm</text><text x="816.5" y="1573" font-size="32.3" textLength="17.09" lengthAdjust="spacingAndGlyphs">2</text>
</g>
<g fill="none" stroke="#000" stroke-width="3.1" stroke-linejoin="round" stroke-linecap="round">
<path d="M175.5,1671.5 L176.0,1665.4 L176.7,1659.3 L177.5,1653.3 L178.5,1647.3 L179.6,1641.4 L180.9,1635.5 L182.4,1629.6 L183.9,1623.8 L185.6,1618.1 L187.4,1612.3 L189.4,1606.6 L191.4,1600.9 L193.6,1595.3 L195.8,1589.7 L198.1,1584.1 L200.5,1578.5 L203.0,1573.0 L205.6,1567.5 L208.2,1562.0 L210.9,1556.6 L213.6,1551.1 L216.4,1545.7 L219.2,1540.3 L222.0,1534.9 L224.9,1529.5 L227.8,1524.1 L230.7,1518.7 L233.6,1513.4 L236.5,1508.1 L239.5,1502.7 L242.4,1497.4 L245.4,1492.1 L248.4,1486.8 L251.4,1481.5 L254.4,1476.2 L257.5,1470.9 L260.5,1465.6 L263.6,1460.4 L266.6,1455.1 L269.7,1449.9 L272.8,1444.6 L275.9,1439.4 L279.0,1434.1 L282.1,1428.9 L285.2,1423.6 L288.3,1418.4 L291.5,1413.2 L294.6,1408.0 L297.7,1402.7 L300.8,1397.5 L304.0,1392.3 L307.1,1387.1 L310.2,1381.8 L313.4,1376.6 L316.5,1371.4 L319.6,1366.2 L322.8,1360.9 L325.9,1355.7 L329.0,1350.5 L332.1,1345.2 L335.2,1340.0 L338.3,1334.8 L341.4,1329.5 L344.5,1324.3 L347.6,1319.0 L350.7,1313.8 L353.8,1308.5 L356.8,1303.3 L359.9,1298.0 L363.0,1292.8 L366.1,1287.5 L369.2,1282.3 L372.3,1277.0 L375.4,1271.8 L378.5,1266.6 L381.6,1261.4 L384.8,1256.2 L387.9,1251.0 L391.1,1245.8 L394.2,1240.6 L397.4,1235.4 L400.6,1230.3 L403.9,1225.1 L407.1,1220.0 L410.4,1214.9 L413.6,1209.8 L417.0,1204.7 L420.3,1199.6 L423.6,1194.6 L427.0,1189.6 L430.4,1184.6 L433.9,1179.6 L437.4,1174.6 L440.9,1169.7 L444.4,1164.8 L448.0,1159.9 L451.6,1155.0 L455.2,1150.2 L458.9,1145.4 L462.6,1140.6 L466.4,1135.8 L470.2,1131.1 L474.1,1126.4 L478.0,1121.7 L481.9,1117.1 L485.9,1112.5 L489.9,1108.0 L494.0,1103.4 L498.1,1098.9 L502.3,1094.5 L506.5,1090.1 L510.8,1085.7 L515.1,1081.4 L519.5,1077.1 L523.9,1072.9 L528.4,1068.7 L532.9,1064.6 L537.5,1060.5 L542.1,1056.5 L546.7,1052.6 L551.4,1048.7 L556.2,1044.9 L561.0,1041.1 L565.8,1037.4 L570.7,1033.8 L575.6,1030.2 L580.6,1026.7 L585.6,1023.3 L590.6,1020.0 L595.7,1016.7 L600.8,1013.6 L606.0,1010.5 L611.2,1007.5"/>
<path d="M611.2,1007.5 L613.8,1013.0 L616.4,1018.4 L619.0,1023.9 L621.6,1029.3 L624.3,1034.8 L626.9,1040.2 L629.6,1045.7 L632.3,1051.1 L635.0,1056.5 L637.6,1062.0 L640.3,1067.4 L643.1,1072.8 L645.8,1078.2 L648.5,1083.6 L651.2,1089.0 L654.0,1094.4 L656.7,1099.8 L659.5,1105.2 L662.3,1110.6 L665.0,1116.0 L667.8,1121.4 L670.6,1126.8 L673.4,1132.2 L676.2,1137.5 L679.1,1142.9 L681.9,1148.3 L684.7,1153.6 L687.5,1159.0 L690.4,1164.4 L693.2,1169.7 L696.1,1175.1 L699.0,1180.4 L701.8,1185.8 L704.7,1191.1 L707.6,1196.5 L710.5,1201.8 L713.3,1207.1 L716.2,1212.5 L719.1,1217.8 L722.0,1223.1 L724.9,1228.5 L727.8,1233.8 L730.8,1239.1 L733.7,1244.5 L736.6,1249.8 L739.5,1255.1 L742.5,1260.4 L745.4,1265.7 L748.3,1271.1 L751.3,1276.4 L754.2,1281.7 L757.1,1287.0 L760.1,1292.3 L763.0,1297.6 L766.0,1302.9 L768.9,1308.3 L771.9,1313.6 L774.8,1318.9 L777.8,1324.2 L780.7,1329.5 L783.7,1334.8 L786.7,1340.1 L789.6,1345.4 L792.6,1350.7 L795.5,1356.0 L798.5,1361.3 L801.4,1366.6 L804.4,1372.0 L807.4,1377.3 L810.3,1382.6 L813.3,1387.9 L816.2,1393.2 L819.2,1398.5 L822.2,1403.8 L825.1,1409.1 L828.1,1414.4 L831.1,1419.7 L834.1,1425.0 L837.0,1430.3 L840.0,1435.5 L843.0,1440.8 L846.0,1446.1 L849.0,1451.4 L852.1,1456.6 L855.1,1461.9 L858.1,1467.2 L861.1,1472.4 L864.2,1477.7 L867.2,1482.9 L870.3,1488.2 L873.4,1493.4 L876.5,1498.6 L879.5,1503.8 L882.6,1509.0 L885.8,1514.2 L888.9,1519.4 L892.0,1524.6 L895.2,1529.8 L898.3,1535.0 L901.5,1540.1 L904.7,1545.3 L907.9,1550.4 L911.1,1555.6 L914.3,1560.7 L917.6,1565.8 L920.9,1570.9 L924.1,1576.0 L927.4,1581.1 L930.7,1586.2 L934.1,1591.3 L937.4,1596.3 L940.8,1601.3 L944.2,1606.4 L947.6,1611.4 L951.0,1616.4 L954.4,1621.4 L957.9,1626.4 L961.4,1631.3 L964.9,1636.3 L968.4,1641.2 L971.9,1646.1 L975.5,1651.0 L979.1,1655.9 L982.7,1660.8 L986.3,1665.7 L990.0,1670.5"/>
<path d="M175.5,1671.5 L175.9,1665.4 L176.4,1659.3 L176.9,1653.2 L177.4,1647.1 L178.0,1641.0 L178.6,1634.9 L179.3,1628.9 L180.0,1622.8 L180.8,1616.8 L181.6,1610.8 L182.4,1604.7 L183.3,1598.7 L184.2,1592.7 L185.2,1586.7 L186.2,1580.7 L187.2,1574.7 L188.3,1568.7 L189.4,1562.8 L190.5,1556.8 L191.6,1550.8 L192.8,1544.9 L194.0,1538.9 L195.3,1533.0 L196.6,1527.0 L197.9,1521.1 L199.2,1515.2 L200.6,1509.2 L202.0,1503.3 L203.4,1497.4 L204.8,1491.5 L206.2,1485.6 L207.7,1479.7 L209.2,1473.8 L210.7,1467.9 L212.3,1462.0 L213.8,1456.1 L215.4,1450.2 L217.0,1444.3 L218.6,1438.5 L220.2,1432.6 L221.8,1426.7 L223.5,1420.8 L225.1,1415.0 L226.8,1409.1 L228.5,1403.2 L230.2,1397.4 L231.9,1391.5 L233.6,1385.6 L235.3,1379.8 L237.0,1373.9 L238.8,1368.1 L240.5,1362.2 L242.2,1356.3 L244.0,1350.5 L245.7,1344.6 L247.5,1338.8 L249.2,1332.9 L250.9,1327.0 L252.7,1321.2 L254.4,1315.3 L256.2,1309.4 L257.9,1303.6 L259.6,1297.7 L261.3,1291.8 L263.1,1285.9 L264.8,1280.1 L266.5,1274.2 L268.2,1268.3 L269.8,1262.4 L271.5,1256.5 L273.2,1250.7 L274.9,1244.8 L276.5,1238.9 L278.2,1233.0 L279.9,1227.1 L281.6,1221.2 L283.2,1215.4 L284.9,1209.5 L286.6,1203.6 L288.4,1197.8 L290.1,1191.9 L291.8,1186.1 L293.6,1180.2 L295.4,1174.4 L297.2,1168.6 L299.1,1162.8 L300.9,1157.0 L302.8,1151.2 L304.7,1145.5 L306.7,1139.7 L308.7,1134.0 L310.7,1128.2 L312.8,1122.5 L314.9,1116.8 L317.1,1111.2 L319.3,1105.5 L321.5,1099.9 L323.8,1094.3 L326.1,1088.7 L328.5,1083.1 L331.0,1077.6 L333.5,1072.1 L336.0,1066.6 L338.7,1061.1 L341.4,1055.7 L344.1,1050.3 L346.9,1044.9 L349.8,1039.5 L352.8,1034.2 L355.8,1028.9 L358.9,1023.6 L362.1,1018.4 L365.4,1013.2 L368.7,1008.0"/>
<path d="M368.7,1008.0 L369.8,1014.0 L370.9,1020.0 L372.0,1025.9 L373.1,1031.9 L374.3,1037.9 L375.5,1043.8 L376.7,1049.8 L377.9,1055.7 L379.1,1061.7 L380.4,1067.6 L381.7,1073.5 L382.9,1079.5 L384.3,1085.4 L385.6,1091.3 L386.9,1097.3 L388.3,1103.2 L389.7,1109.1 L391.1,1115.0 L392.5,1120.9 L393.9,1126.8 L395.3,1132.7 L396.7,1138.7 L398.2,1144.6 L399.7,1150.5 L401.2,1156.3 L402.6,1162.2 L404.1,1168.1 L405.7,1174.0 L407.2,1179.9 L408.7,1185.8 L410.2,1191.7 L411.8,1197.6 L413.3,1203.4 L414.9,1209.3 L416.5,1215.2 L418.1,1221.1 L419.6,1226.9 L421.2,1232.8 L422.8,1238.7 L424.4,1244.6 L426.0,1250.4 L427.7,1256.3 L429.3,1262.2 L430.9,1268.0 L432.5,1273.9 L434.2,1279.8 L435.8,1285.6 L437.5,1291.5 L439.1,1297.3 L440.8,1303.2 L442.4,1309.1 L444.1,1314.9 L445.8,1320.8 L447.4,1326.6 L449.1,1332.5 L450.8,1338.3 L452.5,1344.2 L454.2,1350.0 L455.9,1355.9 L457.6,1361.7 L459.3,1367.6 L461.0,1373.4 L462.7,1379.3 L464.4,1385.1 L466.1,1391.0 L467.8,1396.8 L469.5,1402.7 L471.2,1408.5 L472.9,1414.4 L474.6,1420.2 L476.4,1426.0 L478.1,1431.9 L479.8,1437.7 L481.5,1443.6 L483.2,1449.4 L485.0,1455.3 L486.7,1461.1 L488.4,1466.9 L490.1,1472.8 L491.9,1478.6 L493.6,1484.5 L495.3,1490.3 L497.0,1496.1 L498.7,1502.0 L500.5,1507.8 L502.2,1513.7 L503.9,1519.5 L505.6,1525.4 L507.3,1531.2 L509.0,1537.0 L510.7,1542.9 L512.4,1548.7 L514.1,1554.6 L515.8,1560.4 L517.5,1566.2 L519.2,1572.1 L520.9,1577.9 L522.6,1583.8 L524.3,1589.6 L526.0,1595.5 L527.7,1601.3 L529.4,1607.2 L531.0,1613.0 L532.7,1618.8 L534.4,1624.7 L536.0,1630.5 L537.7,1636.4 L539.3,1642.2 L541.0,1648.1 L542.6,1653.9 L544.2,1659.8 L545.9,1665.6 L547.5,1671.5"/>
<path d="M175.5,1671.5 C177,1654.3 178.3,1637.8 180,1620 C181.8,1600.8 183.9,1581.7 186,1560 C188.5,1534.1 190.6,1503.3 193.8,1475 C197,1446.6 201.2,1418.7 205,1390 C208.9,1360.4 213.2,1328.1 216.9,1300 C220.2,1275.2 223.1,1251.5 226,1230 C228.5,1211.7 230.6,1197.1 233,1179 C235.7,1158.6 239,1133 241.6,1113.7 C243.7,1098.4 245.1,1085 247.5,1072.5 C249.6,1061.8 252.4,1051.6 254.6,1043 C256.3,1036.4 257.7,1031.3 259.3,1025.4 C261,1019.3 262.8,1013.1 264.6,1007"/>
<path d="M264.6,1007 L265.5,1030 L266.3,1055 L347.8,1671.5"/>
</g>
<g fill="none" stroke="#000" stroke-width="3.7" stroke-linejoin="round" stroke-linecap="round">
<path d="M176,1671.5 L178,1620 L229.2,1007 L230.5,1055 L280.5,1671.5"/>
<path d="M176,1671.5 L177.5,1620 L215.7,1007 L216.8,1055 L252.5,1671.5"/>
<path d="M176,1671.5 L177,1620 L205.7,1007 L206.5,1055 L235,1671.5"/>
</g>
<path d="M270,1016 L286,989.9" stroke="#000" stroke-width="2.3" fill="none"/><path d="M295.4,974.6 L288.8,994 L281.1,989.3 Z" fill="#000"/>
<path d="M389,1091 L503.2,1003.5" stroke="#000" stroke-width="2.3" fill="none"/><path d="M517.5,992.6 L504.4,1008.3 L498.9,1001.2 Z" fill="#000"/>
<path d="M693.4,1172.6 L752.2,1118" stroke="#000" stroke-width="2.3" fill="none"/><path d="M765.4,1105.7 L753.8,1122.6 L747.7,1116 Z" fill="#000"/>
<path d="M260.3,1401.2 L475.8,1319.2" stroke="#000" stroke-width="2.3" fill="none"/><path d="M492.6,1312.8 L475.5,1324.1 L472.3,1315.7 Z" fill="#000"/>
<path d="M237.6,1443.5 L572,1443.5" stroke="#000" stroke-width="2.3" fill="none"/><path d="M590,1443.5 L570,1448 L570,1439 Z" fill="#000"/>
<path d="M231,1576.5 L632,1576.5" stroke="#000" stroke-width="2.3" fill="none"/><path d="M650,1576.5 L630,1581 L630,1572 Z" fill="#000"/>
</svg>
</body></html>
